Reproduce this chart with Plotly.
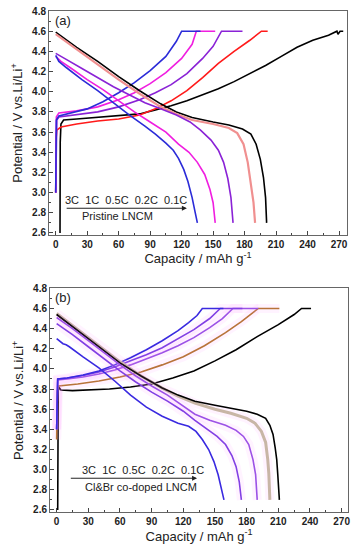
import plotly.graph_objects as go

# ---------------- Panel (a): Pristine LNCM ----------------
a_chg_01C_x = [4.1, 4.1, 4.3, 5, 7.5, 20, 40, 60, 80, 95, 110, 125, 140, 155, 170, 185, 200, 215, 230, 245, 260, 268, 269, 271, 274]
a_chg_01C_y = [2.6, 3.0, 3.5, 3.68, 3.72, 3.73, 3.745, 3.76, 3.78, 3.82, 3.86, 3.91, 3.97, 4.03, 4.10, 4.18, 4.26, 4.35, 4.44, 4.51, 4.56, 4.6, 4.57, 4.6, 4.6]
a_chg_02C_x = [0, 0, 0.5, 1, 5, 20, 40, 60, 80, 95, 110, 125, 140, 155, 170, 185, 196, 202]
a_chg_02C_y = [3.0, 3.3, 3.55, 3.62, 3.65, 3.68, 3.71, 3.73, 3.77, 3.83, 3.91, 4.01, 4.14, 4.28, 4.40, 4.51, 4.6, 4.6]
a_chg_05C_x = [0, 0.5, 1, 3, 20, 40, 60, 80, 95, 110, 125, 140, 150, 158, 178]
a_chg_05C_y = [3.0, 3.6, 3.72, 3.75, 3.77, 3.80, 3.85, 3.92, 3.99, 4.07, 4.18, 4.33, 4.45, 4.6, 4.6]
a_chg_1C_x = [0, 0.3, 0.6, 3, 20, 40, 60, 75, 90, 105, 120, 130, 134, 152]
a_chg_1C_y = [3.0, 3.5, 3.75, 3.79, 3.81, 3.85, 3.92, 3.99, 4.08, 4.19, 4.33, 4.47, 4.6, 4.6]
a_chg_3C_x = [0, 0.3, 0.6, 3, 15, 30, 45, 60, 75, 90, 105, 115, 120, 138]
a_chg_3C_y = [3.0, 3.5, 3.72, 3.76, 3.79, 3.83, 3.90, 3.99, 4.09, 4.21, 4.35, 4.50, 4.6, 4.6]

a_dis_01C_x = [0, 20, 40, 60, 80, 100, 115, 130, 150, 165, 178, 186, 191, 195, 198, 200, 201]
a_dis_01C_y = [4.59, 4.44, 4.30, 4.15, 4.01, 3.88, 3.80, 3.745, 3.70, 3.67, 3.63, 3.58, 3.48, 3.33, 3.15, 2.95, 2.7]
a_dis_02C_x = [0, 20, 40, 60, 80, 100, 115, 130, 150, 165, 173, 179, 183, 186, 188.5, 190]
a_dis_02C_y = [4.57, 4.42, 4.27, 4.12, 3.98, 3.85, 3.78, 3.72, 3.68, 3.64, 3.59, 3.48, 3.30, 3.10, 2.90, 2.7]
a_dis_05C_x = [0, 3, 10, 25, 40, 55, 70, 85, 100, 115, 128, 138, 148, 155, 160, 164, 167, 169]
a_dis_05C_y = [4.38, 4.36, 4.32, 4.23, 4.14, 4.05, 3.97, 3.89, 3.83, 3.77, 3.70, 3.62, 3.52, 3.42, 3.30, 3.14, 2.95, 2.7]
a_dis_1C_x = [0, 5, 15, 30, 45, 60, 75, 90, 105, 117, 127, 135, 142, 147, 150, 152]
a_dis_1C_y = [4.35, 4.30, 4.23, 4.12, 4.02, 3.91, 3.80, 3.70, 3.60, 3.48, 3.40, 3.30, 3.18, 3.03, 2.90, 2.7]
a_dis_3C_x = [0, 3, 10, 25, 40, 55, 70, 85, 95, 105, 112, 117, 122, 126, 130, 133, 135]
a_dis_3C_y = [4.36, 4.30, 4.24, 4.12, 4.01, 3.89, 3.77, 3.66, 3.58, 3.49, 3.42, 3.34, 3.23, 3.11, 2.95, 2.80, 2.7]

# ---------------- Panel (b): Cl&Br co-doped LNCM ----------------
b_chg_01C_x = [1, 1, 1.2, 1.5, 2, 4, 15, 30, 50, 70, 90, 110, 130, 150, 170, 190, 210, 225, 232, 241]
b_chg_01C_y = [2.6, 3.2, 3.6, 3.78, 3.82, 3.79, 3.785, 3.79, 3.80, 3.82, 3.85, 3.91, 3.98, 4.08, 4.19, 4.32, 4.44, 4.54, 4.6, 4.6]
b_chg_02C_x = [0, 0.3, 0.6, 2, 20, 40, 60, 80, 100, 120, 140, 160, 175, 191, 211]
b_chg_02C_y = [3.3, 3.6, 3.78, 3.83, 3.85, 3.88, 3.92, 3.97, 4.04, 4.12, 4.23, 4.36, 4.47, 4.6, 4.6]
b_chg_05C_x = [0, 0.4, 1, 10, 25, 40, 55, 70, 85, 100, 115, 130, 145, 157, 167, 191]
b_chg_05C_y = [3.4, 3.8, 3.89, 3.90, 3.92, 3.95, 3.99, 4.04, 4.10, 4.16, 4.23, 4.31, 4.41, 4.50, 4.6, 4.6]
b_chg_1C_x = [0, 0.4, 1, 10, 25, 40, 55, 70, 85, 100, 115, 130, 145, 155, 176]
b_chg_1C_y = [3.4, 3.8, 3.90, 3.91, 3.935, 3.97, 4.02, 4.08, 4.14, 4.21, 4.30, 4.39, 4.50, 4.6, 4.6]
b_chg_3C_x = [0, 0.4, 1, 10, 25, 40, 55, 70, 85, 100, 115, 125, 133, 138, 158]
b_chg_3C_y = [3.4, 3.8, 3.90, 3.91, 3.94, 3.98, 4.04, 4.11, 4.19, 4.28, 4.38, 4.46, 4.53, 4.6, 4.6]

b_dis_01C_x = [0, 20, 40, 60, 80, 100, 115, 131, 150, 165, 180, 190, 198, 202, 205, 207, 208.5, 209.5, 210.5, 211]
b_dis_01C_y = [4.54, 4.38, 4.22, 4.06, 3.93, 3.81, 3.74, 3.68, 3.64, 3.61, 3.58, 3.55, 3.51, 3.44, 3.35, 3.22, 3.10, 2.95, 2.80, 2.7]
b_dis_02C_x = [0, 20, 40, 60, 80, 100, 115, 131, 150, 165, 180, 188, 194, 198, 200, 201, 202]
b_dis_02C_y = [4.55, 4.39, 4.23, 4.07, 3.93, 3.81, 3.73, 3.66, 3.60, 3.56, 3.51, 3.46, 3.38, 3.27, 3.10, 2.96, 2.7]
b_dis_05C_x = [0, 15, 30, 45, 60, 75, 90, 105, 120, 131, 145, 160, 170, 177, 182, 186, 188.5, 190]
b_dis_05C_y = [4.51, 4.40, 4.28, 4.16, 4.04, 3.93, 3.83, 3.74, 3.63, 3.55, 3.49, 3.44, 3.39, 3.33, 3.25, 3.10, 2.95, 2.7]
b_dis_1C_x = [0, 15, 30, 45, 60, 75, 90, 105, 120, 131, 142, 152, 160, 166, 170, 173, 175]
b_dis_1C_y = [4.45, 4.34, 4.22, 4.10, 3.98, 3.87, 3.77, 3.68, 3.58, 3.49, 3.41, 3.33, 3.25, 3.14, 3.03, 2.88, 2.7]
b_dis_3C_x = [0, 3, 6, 9, 12, 25, 40, 55, 70, 85, 100, 115, 125, 132, 138, 144, 149, 153, 156, 158.5]
b_dis_3C_y = [4.30, 4.27, 4.25, 4.24, 4.22, 4.12, 4.01, 3.88, 3.74, 3.62, 3.53, 3.46, 3.43, 3.38, 3.30, 3.20, 3.08, 2.95, 2.82, 2.7]

rate_text = "3C  1C  0.5C  0.2C  0.1C"
label_a = "Pristine LNCM"
label_b = "Cl&Br co-doped LNCM"
x_title = "Capacity / mAh g<sup>-1</sup>"
y_title = "Potential / V vs.Li/Li<sup>+</sup>"

fig = go.Figure()

def add(x, y, color, ax="x", ay="y", width=1.6, halo=None):
    if halo:
        fig.add_trace(go.Scatter(x=x, y=y, mode="lines", xaxis=ax, yaxis=ay,
                                 line=dict(color=halo, width=9), hoverinfo="skip", showlegend=False))
    fig.add_trace(go.Scatter(x=x, y=y, mode="lines", xaxis=ax, yaxis=ay,
                             line=dict(color=color, width=width), showlegend=False))

# panel a
add(a_chg_01C_x, a_chg_01C_y, "#000000")
add(a_chg_02C_x, a_chg_02C_y, "#ff1a1a")
add(a_chg_05C_x, a_chg_05C_y, "#8a22d6")
add(a_chg_1C_x, a_chg_1C_y, "#f01ee0")
add(a_chg_3C_x, a_chg_3C_y, "#2b2bd8")
add(a_dis_01C_x, a_dis_01C_y, "#000000")
add(a_dis_02C_x, a_dis_02C_y, "#f09090", width=2.2)
add(a_dis_05C_x, a_dis_05C_y, "#8a22d6")
add(a_dis_1C_x, a_dis_1C_y, "#f01ee0")
add(a_dis_3C_x, a_dis_3C_y, "#2b2bd8")

# panel b
halo = "rgba(255,140,255,0.10)"
add(b_chg_01C_x, b_chg_01C_y, "#000000", "x2", "y2")
add(b_chg_02C_x, b_chg_02C_y, "#b8733a", "x2", "y2", halo=halo)
add(b_chg_05C_x, b_chg_05C_y, "#9c52e6", "x2", "y2", halo=halo)
add(b_chg_1C_x, b_chg_1C_y, "#8240e4", "x2", "y2", halo=halo)
add(b_chg_3C_x, b_chg_3C_y, "#3a2ae0", "x2", "y2")
add(b_dis_02C_x, b_dis_02C_y, "#c8b6a6", "x2", "y2", width=3, halo=halo)
add(b_dis_01C_x, b_dis_01C_y, "#000000", "x2", "y2")
add(b_dis_05C_x, b_dis_05C_y, "#9c52e6", "x2", "y2", halo=halo)
add(b_dis_1C_x, b_dis_1C_y, "#8240e4", "x2", "y2", halo=halo)
add(b_dis_3C_x, b_dis_3C_y, "#3a2ae0", "x2", "y2")

tickfont = dict(family="Liberation Sans, Arial", size=10, color="#222", weight="bold")
titlefont = dict(family="Liberation Sans, Arial", size=13, color="#222")

def xaxis(domain, anchor, rng):
    return dict(domain=domain, anchor=anchor, range=rng, tick0=0, dtick=30,
                automargin=False,
                ticks="inside", ticklen=4, tickcolor="#444",
                minor=dict(ticks="inside", ticklen=2, dtick=15, tickcolor="#444"),
                showline=True, mirror=True, linecolor="#666", linewidth=1,
                showgrid=False, zeroline=False, tickfont=tickfont,
                title=dict(text=x_title, font=titlefont, standoff=4))

def yaxis(domain, anchor, rng):
    return dict(domain=domain, anchor=anchor, range=rng, tick0=2.6, dtick=0.2,
                tickformat=".1f", automargin=False,
                ticks="inside", ticklen=4, tickcolor="#444",
                minor=dict(ticks="inside", ticklen=2, dtick=0.1, tickcolor="#444"),
                showline=True, mirror=True, linecolor="#666", linewidth=1,
                showgrid=False, zeroline=False, tickfont=tickfont,
                title=dict(text=y_title, font=titlefont, standoff=6))

fig.update_layout(
    width=359, height=550,
    margin=dict(l=0, r=0, t=0, b=0, pad=0, autoexpand=False),
    paper_bgcolor="white", plot_bgcolor="white",
    xaxis=xaxis([49/359, 347/359], "y", [-6.4, 277.6]),
    yaxis=yaxis([1-235/550, 1-11/550], "x", [2.58, 4.8]),
    xaxis2=xaxis([50/359, 348.3/359], "y2", [-6.3, 276.3]),
    yaxis2=yaxis([1-512.3/550, 1-288.3/550], "x2", [2.577, 4.8]),
    showlegend=False,
)

annfont = dict(family="Liberation Sans, Arial", size=11, color="#222")
anns = [
    dict(text="(a)", x=-3, y=4.71, xref="x", yref="y", showarrow=False, xanchor="left",
         font=dict(family="Liberation Sans, Arial", size=13, color="#222")),
    dict(text=rate_text, x=7, y=2.93, xref="x", yref="y", showarrow=False, xanchor="left", font=annfont),
    dict(text=label_a, x=59, y=2.77, xref="x", yref="y", showarrow=False, font=annfont),
    dict(text="", x=125, y=2.845, ax=9, ay=2.845, xref="x", yref="y", axref="x", ayref="y",
         showarrow=True, arrowhead=2, arrowsize=1, arrowwidth=1, arrowcolor="#222"),
    dict(text="(b)", x=-3, y=4.71, xref="x2", yref="y2", showarrow=False, xanchor="left",
         font=dict(family="Liberation Sans, Arial", size=13, color="#222")),
    dict(text=rate_text, x=22, y=3.0, xref="x2", yref="y2", showarrow=False, xanchor="left", font=annfont),
    dict(text=label_b, x=80, y=2.825, xref="x2", yref="y2", showarrow=False, font=annfont),
    dict(text="", x=133, y=2.915, ax=12, ay=2.915, xref="x2", yref="y2", axref="x2", ayref="y2",
         showarrow=True, arrowhead=2, arrowsize=1, arrowwidth=1, arrowcolor="#222"),
]
fig.update_layout(annotations=anns)

fig.write_html("out.html",
               config={"displayModeBar": False},
               post_script="document.body.style.margin='0';document.body.style.overflow='hidden';")
